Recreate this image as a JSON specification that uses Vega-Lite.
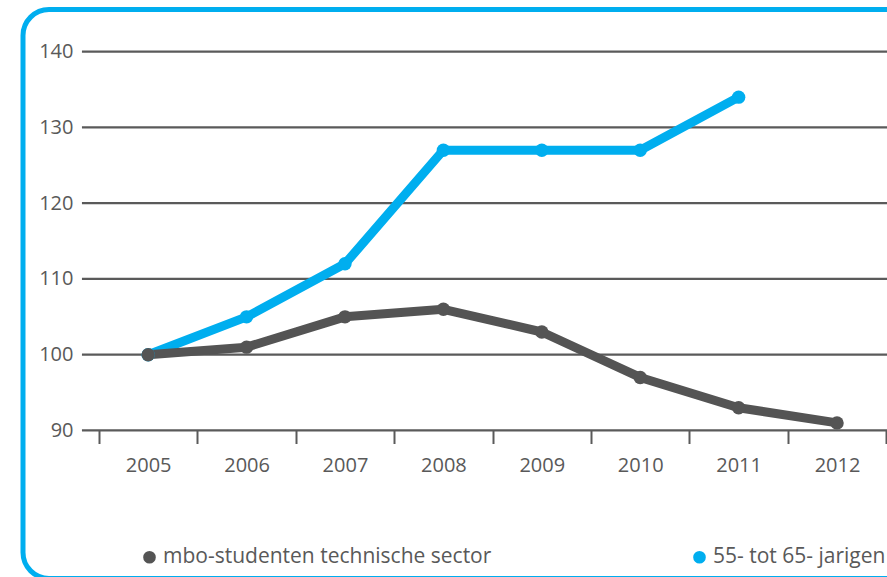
{
  "$schema": "https://vega.github.io/schema/vega-lite/v6.json",
  "width": 890,
  "height": 569,
  "autosize": {"type": "none"},
  "padding": {"left": 23, "top": 9.5, "right": 0, "bottom": 0},
  "background": "white",
  "config": {
    "view": {"stroke": "#00AEEF", "strokeWidth": 5, "cornerRadius": 26},
    "font": "Open Sans",
    "axis": {"labelFont": "Open Sans", "labelFontSize": 20, "labelColor": "#595959"},
    "legend": {"labelFont": "Open Sans", "labelFontSize": 21, "labelColor": "#595959", "labelLimit": 600}
  },
  "layer": [
    {
      "data": {"values": [{"v": 90}, {"v": 100}, {"v": 110}, {"v": 120}, {"v": 130}, {"v": 140}]},
      "mark": {"type": "rule", "color": "#5a5a5a", "strokeWidth": 2.2},
      "encoding": {
        "y": {"field": "v", "type": "quantitative", "scale": {"domain": [70.46, 145.57], "nice": false, "zero": false},
              "axis": {"values": [90, 100, 110, 120, 130, 140], "offset": -59, "domain": false, "ticks": false, "grid": false, "labelPadding": 9, "title": null, "labelOverlap": false}},
        "x": {"datum": 2004.327, "type": "quantitative", "scale": {"domain": [2003.728, 2012.772], "nice": false, "zero": false},
              "axis": {"values": [2004.5, 2005.5, 2006.5, 2007.5, 2008.5, 2009.5, 2010.5, 2011.5, 2012.5], "offset": -148, "domain": false, "grid": false, "tickSize": 13, "tickWidth": 2, "tickColor": "#5a5a5a", "labelOffset": 49.2, "labelExpr": "datum.value < 2012 ? toString(datum.value + 0.5) : ''", "labelPadding": 12, "labelFlush": false, "labelOverlap": false, "labelBound": false, "title": null}},
        "x2": {"datum": 2012.772}
      }
    },
    {
      "data": {"values": [
        {"year": 2005, "series": "55- tot 65- jarigen", "value": 100},
        {"year": 2006, "series": "55- tot 65- jarigen", "value": 105},
        {"year": 2007, "series": "55- tot 65- jarigen", "value": 112},
        {"year": 2008, "series": "55- tot 65- jarigen", "value": 127},
        {"year": 2009, "series": "55- tot 65- jarigen", "value": 127},
        {"year": 2010, "series": "55- tot 65- jarigen", "value": 127},
        {"year": 2011, "series": "55- tot 65- jarigen", "value": 134},
        {"year": 2005, "series": "mbo-studenten technische sector", "value": 100},
        {"year": 2006, "series": "mbo-studenten technische sector", "value": 101},
        {"year": 2007, "series": "mbo-studenten technische sector", "value": 105},
        {"year": 2008, "series": "mbo-studenten technische sector", "value": 106},
        {"year": 2009, "series": "mbo-studenten technische sector", "value": 103},
        {"year": 2010, "series": "mbo-studenten technische sector", "value": 97},
        {"year": 2011, "series": "mbo-studenten technische sector", "value": 93},
        {"year": 2012, "series": "mbo-studenten technische sector", "value": 91}
      ]},
      "mark": {"type": "line", "strokeWidth": 9, "strokeJoin": "round", "point": {"filled": true, "size": 180}},
      "encoding": {
        "x": {"field": "year", "type": "quantitative"},
        "y": {"field": "value", "type": "quantitative"},
        "color": {"field": "series", "type": "nominal",
                  "scale": {"domain": ["mbo-studenten technische sector", "55- tot 65- jarigen"], "range": ["#545454", "#00AEEF"]},
                  "legend": {"orient": "none", "legendX": 116, "legendY": 537, "direction": "horizontal", "columns": 2, "columnPadding": 197, "symbolType": "circle", "symbolSize": 160, "symbolStrokeWidth": 0, "labelOffset": 3, "labelLimit": 600, "title": null}}
      }
    }
  ]
}
